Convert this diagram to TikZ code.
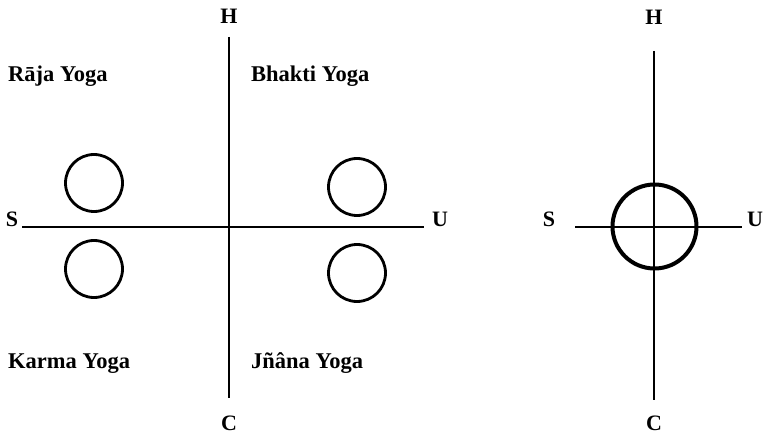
\documentclass[tikz,border=0pt]{standalone}
\usepackage{fontspec}
\setmainfont{Liberation Serif}
\usetikzlibrary{positioning}

\begin{document}
\begin{tikzpicture}[x=1pt, y=-1pt,
    axis/.style={line width=1.4pt},
    ring/.style={draw, circle, line width=2.8pt, minimum size=57pt, inner sep=0pt},
    pole/.style={font=\bfseries\fontsize{22}{26}\selectfont, inner sep=0pt},
    yoga/.style={font=\bfseries\fontsize{22.5}{27}\selectfont, anchor=base west, inner sep=0pt}]
    \useasboundingbox (0,0) rectangle (770,438);

    % left quadrants
    \node[pole] (H1) at (229,16)  {H};
    \node[pole] (C1) at (229,423) {C};
    \node[pole] (S1) at (12,219)  {S};
    \node[pole] (U1) at (440,219) {U};
    \coordinate (top1) at (229,37);
    \coordinate (bot1) at (229,398);
    \coordinate (lft1) at (22,227);
    \coordinate (rgt1) at (424,227);
    \draw[axis] (top1) -- (bot1);
    \draw[axis] (lft1) -- (rgt1);
    \fill (229,227) circle (1.8pt);

    \node[yoga] (raja)   at (8,82)    {Rāja Yoga};
    \node[yoga] (bhakti) at (251,82)  {Bhakti Yoga};
    \node[yoga] (karma)  at (8,368)   {Karma Yoga};
    \node[yoga] (jnana)  at (251,368) {Jñâna Yoga};

    \node[ring] (ra) at (94,183)  {};
    \node[ring] (ka) at (94,269)  {};
    \node[ring] (bh) at (357,187) {};
    \node[ring] (jn) at (357,273) {};

    % right: all four in one
    \node[pole] (H2) at (654,17)  {H};
    \node[pole] (C2) at (654,423) {C};
    \node[pole] (S2) at (549,219) {S};
    \node[pole] (U2) at (755,219) {U};
    \coordinate (top2) at (654,51);
    \coordinate (bot2) at (654,400);
    \coordinate (lft2) at (575,227);
    \coordinate (rgt2) at (742,227);
    \draw[axis] (top2) -- (bot2);
    \draw[axis] (lft2) -- (rgt2);
    \node[ring, line width=4pt, minimum size=84pt] (all) at (654.5,226.5) {};
\end{tikzpicture}
\end{document}
